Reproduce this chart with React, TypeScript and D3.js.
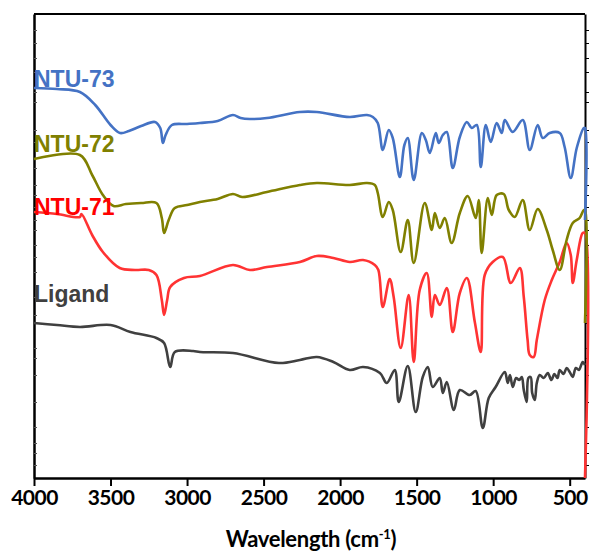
import { useEffect, useRef } from "react";
import * as d3 from "d3";

const W = 593;
const H = 556;
const MARGIN = { top: 14, right: 8, bottom: 78, left: 34 };

// wavenumber (cm-1), transmittance offset (a.u.)
const NTU73: [number, number][] = [
  [4000, 390], [3850, 389], [3700, 386], [3600, 373], [3500, 353], [3438, 345],
  [3380, 347], [3300, 352], [3210, 356], [3175, 350], [3158, 335], [3140, 343],
  [3099, 353], [3000, 354], [2916, 355], [2800, 357], [2700, 363], [2650, 360],
  [2589, 359], [2478, 360], [2263, 366], [2152, 366], [1937, 361], [1825, 363],
  [1786, 361], [1754, 355], [1721, 328], [1682, 348], [1656, 340], [1610, 301],
  [1580, 333], [1558, 340], [1519, 298], [1466, 345], [1440, 338], [1414, 325],
  [1375, 345], [1355, 335], [1329, 343], [1303, 346], [1264, 310], [1218, 341],
  [1172, 356], [1140, 350], [1107, 353], [1081, 311], [1048, 353], [1016, 336],
  [977, 355], [944, 345], [924, 358], [872, 346], [807, 358], [761, 328],
  [709, 353], [676, 340], [631, 345], [565, 345], [533, 331], [493, 300],
  [454, 330], [408, 350], [400, 350], [400, 258],
];

const NTU72: [number, number][] = [
  [4000, 319], [3700, 323], [3620, 303], [3550, 283], [3480, 272], [3400, 274],
  [3300, 275], [3200, 275], [3165, 260], [3150, 245], [3120, 258], [3080, 270],
  [3000, 273], [2916, 276], [2800, 279], [2700, 284], [2640, 281], [2478, 286],
  [2263, 293], [2152, 295], [1937, 293], [1825, 295], [1773, 293], [1754, 285],
  [1721, 261], [1682, 276], [1656, 268], [1604, 226], [1558, 258], [1519, 215],
  [1447, 275], [1401, 248], [1381, 265], [1349, 250], [1316, 260], [1271, 235],
  [1218, 265], [1166, 282], [1114, 260], [1094, 278], [1075, 225], [1035, 280],
  [1009, 263], [977, 283], [931, 284], [898, 268], [859, 261], [807, 278],
  [761, 248], [709, 269], [650, 248], [611, 228], [565, 208], [520, 238],
  [480, 255], [435, 260], [408, 268], [400, 268], [400, 155],
];

const NTU71: [number, number][] = [
  [4000, 266], [3850, 264], [3700, 261], [3690, 264], [3620, 243], [3550, 226],
  [3440, 210], [3340, 208], [3250, 208], [3200, 203], [3165, 178], [3150, 163],
  [3130, 178], [3110, 191], [3020, 200], [2916, 202], [2700, 213], [2589, 208],
  [2478, 211], [2263, 216], [2152, 222], [2044, 220], [1937, 216], [1850, 218],
  [1773, 213], [1750, 208], [1721, 171], [1676, 199], [1650, 181], [1604, 130],
  [1552, 183], [1519, 116], [1480, 188], [1434, 205], [1401, 161], [1381, 183],
  [1349, 173], [1303, 190], [1264, 146], [1218, 185], [1172, 200], [1120, 156],
  [1081, 126], [1055, 203], [1003, 216], [937, 221], [885, 195], [826, 210],
  [800, 181], [775, 138], [761, 123], [735, 121], [715, 138], [663, 178],
  [617, 198], [565, 216], [520, 235], [493, 223], [480, 195], [454, 218],
  [415, 245], [400, 245], [400, 0],
];

const LIGAND: [number, number][] = [
  [4000, 155], [3850, 153], [3700, 151], [3500, 153], [3370, 146], [3200, 140],
  [3150, 135], [3110, 111], [3080, 126], [2960, 127], [2916, 126], [2700, 125],
  [2400, 115], [2263, 118], [2152, 121], [2044, 116], [1937, 108], [1850, 111],
  [1740, 105], [1695, 95], [1643, 108], [1617, 76], [1558, 112], [1506, 66],
  [1460, 101], [1427, 111], [1395, 91], [1349, 100], [1329, 85], [1303, 96],
  [1257, 68], [1218, 88], [1153, 83], [1114, 87], [1068, 50], [1029, 80],
  [984, 91], [924, 106], [905, 95], [890, 103], [872, 91], [850, 100],
  [830, 98], [813, 101], [800, 88], [781, 76], [770, 100], [755, 101],
  [745, 85], [728, 78], [715, 95], [696, 103], [670, 100], [643, 105],
  [620, 98], [600, 104], [580, 100], [565, 108], [540, 104], [520, 110],
  [500, 106], [480, 101], [460, 110], [440, 108], [415, 116], [400, 113],
];

const SERIES = [
  { name: "Ligand", data: LIGAND, color: "#404040", text: "#404040", labelY: 302 },
  { name: "NTU-71", data: NTU71, color: "#FF3333", text: "#FF0000", labelY: 215 },
  { name: "NTU-72", data: NTU72, color: "#808000", text: "#808000", labelY: 152 },
  { name: "NTU-73", data: NTU73, color: "#4472C4", text: "#4472C4", labelY: 87 },
];

const X_TICKS = [4000, 3500, 3000, 2500, 2000, 1500, 1000, 500];
const Y_TICKS = [
  448, 435, 420, 406, 386, 376, 348, 336, 310, 293, 283, 271, 258, 248, 233,
  221, 206, 181, 163, 155, 130, 120, 103, 76, 51, 35, 25, 13,
];

export default function App() {
  const axesRef = useRef<SVGGElement>(null);
  const boundsWidth = W - MARGIN.left - MARGIN.right;
  const boundsHeight = H - MARGIN.top - MARGIN.bottom;

  const xScale = d3.scaleLinear().domain([4000, 400]).range([0, boundsWidth]);
  const yScale = d3.scaleLinear().domain([0, 464]).range([boundsHeight, 0]);

  const line = d3
    .line<[number, number]>()
    .x((d) => xScale(d[0]))
    .y((d) => yScale(d[1]))
    .curve(d3.curveCatmullRom.alpha(0.5));

  useEffect(() => {
    const g = d3.select(axesRef.current);
    g.selectAll("*").remove();

    const xAxis = d3
      .axisBottom(xScale)
      .tickValues(X_TICKS)
      .tickSize(8)
      .tickSizeOuter(0)
      .tickFormat(d3.format("d"));
    const gx = g.append("g").attr("transform", `translate(0,${boundsHeight})`).call(xAxis);
    gx.select(".domain").attr("stroke-width", 2.5);
    gx.selectAll(".tick line").attr("stroke-width", 2);
    gx.selectAll(".tick text")
      .attr("font-family", "Lato, sans-serif")
      .attr("font-weight", 700)
      .attr("font-size", 21)
      .attr("letter-spacing", -0.5)
      .attr("fill", "#000")
      .attr("dy", "0.95em")
      .attr("y", 7);

    const yLeft = d3.axisLeft(yScale).tickValues(Y_TICKS).tickSize(-3).tickSizeOuter(0).tickFormat(() => "");
    const gl = g.append("g").call(yLeft);
    gl.select(".domain").attr("stroke-width", 2.5);
    gl.selectAll(".tick line").attr("stroke", "#555");

    const yRight = d3.axisRight(yScale).tickValues(Y_TICKS).tickSize(4).tickSizeOuter(0).tickFormat(() => "");
    const gr = g.append("g").attr("transform", `translate(${boundsWidth},0)`).call(yRight);
    gr.select(".domain").attr("stroke-width", 2);
    gr.lower();

    g.append("line")
      .attr("x1", 0)
      .attr("x2", boundsWidth)
      .attr("y1", 0)
      .attr("y2", 0)
      .attr("stroke", "#000")
      .attr("stroke-width", 2);
  }, []);

  return (
    <svg width={W} height={H} style={{ position: "absolute", left: 0, top: 0 }}>
      <g transform={`translate(${MARGIN.left},${MARGIN.top})`}>
        <g ref={axesRef} />
        {SERIES.map((s) => (
          <path
            key={s.name}
            d={line(s.data) ?? ""}
            fill="none"
            stroke={s.color}
            strokeWidth={2.6}
            strokeLinejoin="round"
          />
        ))}
        {SERIES.map((s) => (
          <text
            key={s.name + "-label"}
            x={0}
            y={s.labelY - MARGIN.top}
            fill={s.text}
            fontFamily="'Liberation Sans', Arial, sans-serif"
            fontWeight={700}
            fontSize={23}
          >
            {s.name}
          </text>
        ))}
      </g>
      <text
        x={311}
        y={547}
        textAnchor="middle"
        fontFamily="Lato, sans-serif"
        fontWeight={700}
        fontSize={22}
        letterSpacing={-0.3}
        fill="#000"
      >
        Wavelength (cm
        <tspan dy={-8} fontSize={13}>-1</tspan>
        <tspan dy={8}>)</tspan>
      </text>
    </svg>
  );
}
